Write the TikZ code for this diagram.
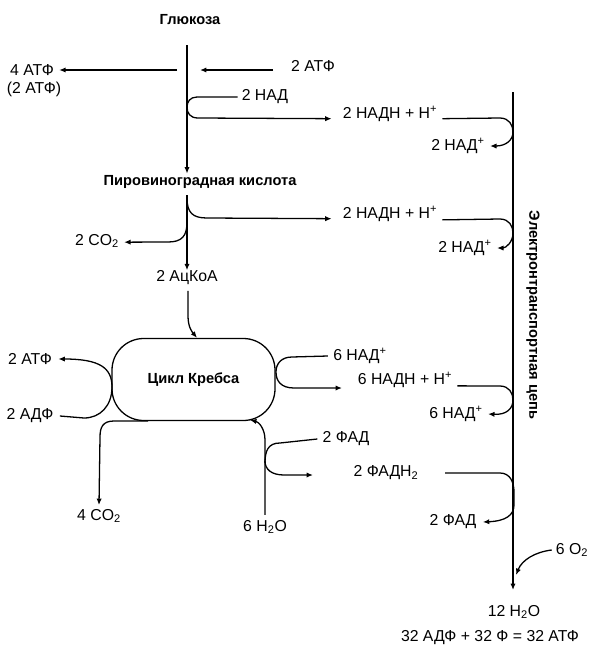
\documentclass[tikz,border=0pt]{standalone}
\usepackage{fontspec}
\setmainfont{Liberation Sans}
\usetikzlibrary{arrows.meta}
\begin{document}
\begin{tikzpicture}[x=0.03cm,y=-0.03cm, line width=1.1pt,
  lab/.style={font=\fontsize{13.5}{16}\selectfont, inner sep=1pt},
  ttl/.style={font=\fontsize{12.5}{14}\selectfont\bfseries, inner sep=1pt},
  arr/.style={-{Latex[length=5.5pt,width=4.5pt]}},
  kbox/.style={draw, rounded corners=0.95cm, minimum width=4.89cm, minimum height=2.46cm, inner sep=0pt, font=\fontsize{12.5}{15}\selectfont\bfseries}]
\useasboundingbox (0,0) rectangle (600,666);

% nodes
\node[ttl] (glu) at (190,20) {Глюкоза};
\node[ttl] (pyr) at (200,182) {Пировиноградная кислота};
\node[lab] (atf4) at (32,70) {4 АТФ};
\node[lab] (atf4b) at (34,89) {(2 АТФ)};
\node[lab] (atf2in) at (313,66) {2 АТФ};
\node[lab] (nad1) at (265,97) {2 НАД};
\node[lab] (nadh1) at (390,114) {2 НАДН + Н\textsuperscript{+}};
\node[lab] (nadp1) at (458,146) {2 НАД\textsuperscript{+}};
\node[lab] (nadh2) at (390,214) {2 НАДН + Н\textsuperscript{+}};
\node[lab] (nadp2) at (465,248) {2 НАД\textsuperscript{+}};
\node[lab] (co2a) at (97,241) {2 CO\textsubscript{2}};
\node[lab] (acoa) at (187,278) {2 АцКоА};
\node[kbox] (krebs) at (193.5,379.5) {Цикл Кребса};
\node[lab] (atf2) at (30,359) {2 АТФ};
\node[lab] (adf2) at (30,416) {2 АДФ};
\node[lab] (nad6) at (360,356) {6 НАД\textsuperscript{+}};
\node[lab] (nadh6) at (405,380) {6 НАДН + Н\textsuperscript{+}};
\node[lab] (nadp6) at (456,414) {6 НАД\textsuperscript{+}};
\node[lab] (fad2) at (346,439) {2 ФАД};
\node[lab] (fadh2) at (386,473) {2 ФАДН\textsubscript{2}};
\node[lab] (fad2r) at (453,522) {2 ФАД};
\node[lab] (co2b) at (99,516) {4 CO\textsubscript{2}};
\node[lab] (h2o6) at (265,527) {6 H\textsubscript{2}O};
\node[lab] (o2) at (572,550) {6 O\textsubscript{2}};
\node[lab] (h2o12) at (514,612) {12 H\textsubscript{2}O};
\node[lab] (sum) at (490,638) {32 АДФ + 32 Ф = 32 АТФ};
\node[ttl, rotate=-90] (etc) at (533,315) {Электронтранспортная цепь};

% coordinates
\coordinate (g0) at (187,45);
\coordinate (a2s) at (273,70);
\coordinate (etop) at (513,92);
\coordinate (ebot) at (513,590);
\coordinate (kl) at (112,387);
\coordinate (kr) at (276,372);

% glycolysis
\draw[arr] (g0) -- (pyr.north -| g0);
\draw[arr] (177,70) -- ([xshift=3pt]atf4.east);
\draw[arr] (a2s) -- (200,70);
\draw[arr] ([xshift=-2pt]nad1.west) -- (197,97) .. controls (190,97) and (187,102) .. (187,107)
   .. controls (187,113) and (190,118) .. (198,118) -- ([xshift=-8pt,yshift=-4pt]nadh1.west);

% electron transport chain
\draw[arr] (etop) -- (ebot);
\draw[arr] ([xshift=3pt,yshift=-4pt]nadh1.east) -- (500,118) .. controls (509,118) and (513,125) .. (513,132)
   .. controls (513,140) and (506,146) .. ([xshift=3pt]nadp1.east);
\draw[arr] ([xshift=3pt,yshift=-5pt]nadh2.east) -- (500,219) .. controls (509,219) and (513,226) .. (513,233)
   .. controls (513,242) and (506,248) .. ([xshift=3pt]nadp2.east);
\draw[arr] ([xshift=3pt,yshift=-5pt]nadh6.east) -- (500,386) .. controls (509,386) and (513,393) .. (513,400)
   .. controls (513,409) and (506,415) .. ([xshift=3pt]nadp6.east);
\draw[arr] (445,473) -- (500,473) .. controls (510,473) and (514,482) .. (514,492) -- (514,505)
   .. controls (514,515) and (506,521) .. ([xshift=4pt]fad2r.east);
\draw[arr] ([xshift=-2pt]o2.west) .. controls (535,552) and (522,560) .. (516,575);

% pyruvate
\draw[arr] (187,195) -- ([yshift=-1pt]acoa.north);
\draw[arr] (187,198) .. controls (187,213) and (193,218) .. (207,218) -- ([xshift=-8pt,yshift=-4pt]nadh2.west);
\draw[arr] (187,222) .. controls (187,236) and (182,242) .. (168,242) -- ([xshift=3pt,yshift=-1pt]co2a.east);

% acetyl-CoA to Krebs
\draw[arr] (acoa.south) ++(1,4) -- (188,316) .. controls (188,328) and (193,333) .. ([xshift=3pt]krebs.north);

% Krebs left
\draw[arr] (kl) .. controls (112,368) and (100,359) .. ([xshift=4pt]atf2.east);
\draw ([xshift=4pt]adf2.east) -- (84,418) .. controls (100,418) and (112,406) .. (kl);

% Krebs right
\draw[arr] ([xshift=-3pt]nad6.west) -- (292,357) .. controls (281,357) and (276,364) .. (kr)
   .. controls (276,381) and (281,388) .. (294,388) -- (342,388);

% Krebs bottom
\draw[arr] (148,421) -- (114,421) .. controls (103,421) and (100,427) .. (100,437) -- ([yshift=2pt]co2b.north);
\draw[arr] ([yshift=3pt]h2o6.north) -- (265,440) .. controls (265,429) and (259,422) .. (250,420);
\draw (265,463) .. controls (265,451) and (268,443) .. (280,443) -- ([xshift=-3pt]fad2.west);
\draw[arr] (265,461) .. controls (265,469) and (271,475) .. (284,475) -- (313,475);
\end{tikzpicture}
\end{document}
